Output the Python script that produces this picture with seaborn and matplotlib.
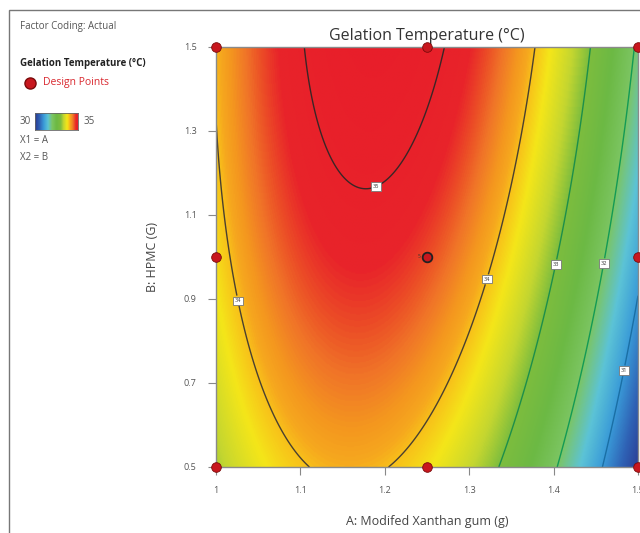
#!/usr/bin/env python3

import numpy as np
import pandas as pd
import matplotlib
matplotlib.use("Agg")
import matplotlib.pyplot as plt
from matplotlib.colors import LinearSegmentedColormap
from matplotlib.patches import Rectangle
import seaborn as sns

# axes
A_RANGE = [1.0, 1.5]
B_RANGE = [0.5, 1.5]
X_TICKS = [1, 1.1, 1.2, 1.3, 1.4, 1.5]
X_TICK_LABELS = ["1", "1.1", "1.2", "1.3", "1.4", "1.5"]
Y_TICKS = [0.5, 0.7, 0.9, 1.1, 1.3, 1.5]
Y_TICK_LABELS = ["0.5", "0.7", "0.9", "1.1", "1.3", "1.5"]

# design points (3x3 grid, centre run replicated)
DESIGN_A = [1.0, 1.25, 1.5, 1.0, 1.25, 1.5, 1.0, 1.25, 1.5]
DESIGN_B = [0.5, 0.5, 0.5, 1.0, 1.0, 1.0, 1.5, 1.5, 1.5]
CENTER_REPS = "5"

# quadratic response:
# T = ridge_T(B) - CURV_A * (A - ridge_A(B))^2
RIDGE_T = [34.83, 1.16, -0.70]   # polynomial in (B - 1)
RIDGE_A = [1.1425, 0.0301]       # A at the ridge, linear in B
CURV_A = 34.1

CONTOUR_LEVELS = [31, 32, 33, 34, 35]
CONTOUR_COLORS = ["#1a6fa5", "#139a55", "#1d8f4a", "#4a4030", "#3a2626"]
LABEL_POS = [(1.48, 0.731), (1.456, 0.986), (1.40, 0.983),
             (1.031, 0.898), (1.319, 0.948), (1.188, 1.176)]

# colour scale (Design-Expert style)
CMAP_STOPS = [30.0, 30.5, 31.0, 31.5, 32.0, 32.5, 33.0, 33.35, 33.75,
              34.0, 34.1, 34.25, 34.45, 34.6, 34.8, 35.3]
CMAP_COLORS = ["#2a3a92", "#2f62b5", "#3a9bd8", "#5cc3d6", "#7cc562",
               "#6cb944", "#7dbd3e", "#c4d630", "#f4e619", "#f8c01a",
               "#f6a81e", "#f4961f", "#f07428", "#ec5226", "#e8242a",
               "#e81e2a"]


def response(a, b):
    u = b - 1.0
    ridge_t = RIDGE_T[0] + RIDGE_T[1] * u + RIDGE_T[2] * u ** 2
    ridge_a = RIDGE_A[0] + RIDGE_A[1] * b
    return ridge_t - CURV_A * (a - ridge_a) ** 2


def make_cmap():
    lo, hi = CMAP_STOPS[0], CMAP_STOPS[-1]
    pos = [(s - lo) / (hi - lo) for s in CMAP_STOPS]
    return LinearSegmentedColormap.from_list("de", list(zip(pos, CMAP_COLORS)))


def main():
    sns.set_style("white")
    plt.rcParams["font.family"] = ["Open Sans", "DejaVu Sans"]

    fig = plt.figure(figsize=(6.4, 5.33), dpi=100)
    ax = fig.add_axes([216 / 640, 1 - 467 / 533, 422 / 640, 420 / 533])

    cmap = make_cmap()
    a = np.linspace(A_RANGE[0], A_RANGE[1], 400)
    b = np.linspace(B_RANGE[0], B_RANGE[1], 400)
    AA, BB = np.meshgrid(a, b)
    T = response(AA, BB)

    ax.imshow(T, origin="lower", extent=[*A_RANGE, *B_RANGE], aspect="auto",
              cmap=cmap, vmin=CMAP_STOPS[0], vmax=CMAP_STOPS[-1],
              interpolation="bilinear")
    cs = ax.contour(AA, BB, T, levels=CONTOUR_LEVELS, colors=CONTOUR_COLORS,
                    linewidths=1.0)
    labels = ax.clabel(cs, fmt="%d", fontsize=4, inline=True,
                       inline_spacing=2, manual=LABEL_POS)
    for t in labels:
        t.set_rotation(0)
        t.set_color("#333333")
        t.set_bbox(dict(boxstyle="square,pad=0.3", fc="white",
                        ec="#777777", lw=0.6))

    pts = pd.DataFrame({"A": DESIGN_A, "B": DESIGN_B})
    sns.scatterplot(data=pts, x="A", y="B", ax=ax, s=48, color="#c8171e",
                    edgecolor="#7a0a0a", linewidth=0.6, zorder=5, clip_on=False)
    ax.scatter([1.25], [1.0], s=48, facecolor="#c8171e", edgecolor="#222222",
               linewidth=1.3, zorder=6)
    ax.text(1.242, 1.0, CENTER_REPS, fontsize=3.5, ha="right", va="center",
            color="#333333", zorder=6)

    ax.set_xlim(A_RANGE)
    ax.set_ylim(B_RANGE)
    ax.set_xticks(X_TICKS)
    ax.set_xticklabels(X_TICK_LABELS)
    ax.set_yticks(Y_TICKS)
    ax.set_yticklabels(Y_TICK_LABELS)
    ax.tick_params(axis="both", direction="out", length=6, width=0.8,
                   color="#888888", labelsize=6.5, labelcolor="#555555",
                   left=True, bottom=True, pad=8)
    for sp in ax.spines.values():
        sp.set_color("#8a8a8a")
        sp.set_linewidth(1.0)

    ax.set_title("Gelation Temperature (°C)", fontsize=11.5, color="#333333",
                 pad=5)
    ax.set_xlabel("A: Modifed Xanthan gum (g)", fontsize=9, color="#444444",
                  labelpad=14)
    ax.set_ylabel("B: HPMC (G)", fontsize=9, color="#444444", labelpad=18)

    # left-hand legend panel
    fig.add_artist(Rectangle((9 / 640, -0.1), 1.2, 1.1 - 10 / 533,
                             transform=fig.transFigure, fill=False,
                             ec="#777777", lw=1.0))
    fig.text(20 / 640, 1 - 26 / 533, "Factor Coding: Actual", fontsize=7,
             color="#555555", va="center")
    fig.text(20 / 640, 1 - 63 / 533, "Gelation Temperature (°C)", fontsize=7,
             color="#222222", weight="bold", va="center")
    fig.add_artist(plt.Line2D([30 / 640], [1 - 83 / 533], marker="o",
                              markersize=8, color="#c8171e",
                              markeredgecolor="#7a0a0a", linestyle="none"))
    fig.text(43 / 640, 1 - 83 / 533, "Design Points", fontsize=7.5,
             color="#d9282f", va="center")

    cax = fig.add_axes([35 / 640, 1 - 130 / 533, 43 / 640, 17 / 533])
    cax.imshow(np.linspace(30, 35, 100)[None, :], aspect="auto", cmap=cmap,
               vmin=CMAP_STOPS[0], vmax=CMAP_STOPS[-1])
    cax.set_xticks([])
    cax.set_yticks([])
    for sp in cax.spines.values():
        sp.set_color("#666666")
        sp.set_linewidth(0.6)
    fig.text(20 / 640, 1 - 121 / 533, "30", fontsize=7, color="#555555",
             va="center")
    fig.text(84 / 640, 1 - 121 / 533, "35", fontsize=7, color="#555555",
             va="center")
    fig.text(20 / 640, 1 - 140 / 533, "X1 = A", fontsize=7, color="#555555",
             va="center")
    fig.text(20 / 640, 1 - 158 / 533, "X2 = B", fontsize=7, color="#555555",
             va="center")

    fig.savefig("out.png", dpi=100)
    plt.close(fig)


if __name__ == "__main__":
    main()
